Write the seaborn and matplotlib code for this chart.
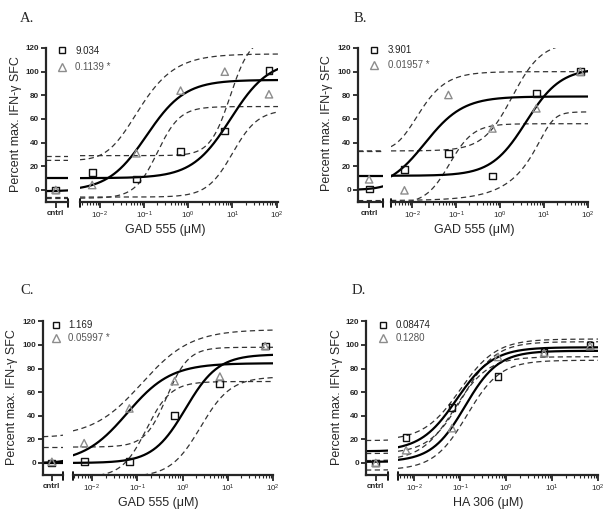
import numpy as np
import matplotlib
matplotlib.use("Agg")
import matplotlib.pyplot as plt
import seaborn as sns
from matplotlib.ticker import LogLocator, NullFormatter, LogFormatterSciNotation, FixedLocator, NullLocator
from matplotlib.lines import Line2D

# ---------------------------------------------------------------- data
conc = [0.0067, 0.067, 0.67, 6.7, 67.0]          # concentration (uM); cntrl handled separately
y_ticks = [0, 20, 40, 60, 80, 100, 120]
cntrl_label = "cntrl"

# Panel A (first value of each series = cntrl well)
A_square = [0.0, 14.6, 9.3, 32.4, 49.9, 100.9]
A_triangle = [0.0, 4.2, 31.0, 84.0, 100.0, 80.9]
A_ec50 = [9.034, 0.1139]
A_legend = ["9.034", "0.1139 *"]
A_fit_bottom = [10.0, -1.0]
A_fit_top = [110.0, 93.0]
A_fit_hill = [1.0, 1.0]
# 95% bands: square upper, square lower, triangle upper, triangle lower
A_band_bottom = [29.0, -6.0, 25.0, -7.0]
A_band_top = [130.0, 68.0, 115.0, 70.5]
A_band_logmid = [0.95, 1.0, -1.73, -0.7]
A_band_hill = [1.9, 1.5, 0.9, 1.7]
A_band_asym = [1.0, 1.0, 3.0, 1.0]

# Panel B
B_square = [0.8, 17.5, 31.0, 11.8, 81.3, 100.3]
B_triangle = [9.0, -0.3, 80.3, 52.0, 69.0, 100.0]
B_ec50 = [3.901, 0.01957]
B_legend = ["3.901", "0.01957 *"]
B_fit_bottom = [12.0, 0.0]
B_fit_top = [103.0, 79.0]
B_fit_hill = [1.1, 1.0]
B_band_bottom = [33.0, -9.0, 33.0, -12.0]
B_band_top = [125.0, 66.0, 100.0, 56.0]
B_band_logmid = [0.28, 1.1, -2.3, -1.15]
B_band_hill = [1.3, 3.0, 1.2, 1.6]
B_band_asym = [1.0, 0.25, 3.0, 1.0]

# Panel C
C_square = [0.0, 1.0, 1.0, 40.3, 67.6, 99.0]
C_triangle = [1.0, 16.8, 46.2, 69.3, 73.2, 99.0]
C_ec50 = [1.169, 0.05997]
C_legend = ["1.169", "0.05997 *"]
C_fit_bottom = [0.0, 0.0]
C_fit_top = [92.0, 84.5]
C_fit_hill = [1.2, 0.9]
C_band_bottom = [13.5, -12.0, 22.0, -12.0]
C_band_top = [98.0, 73.0, 113.0, 69.0]
C_band_logmid = [-0.35, 0.4, -0.9, -0.8]
C_band_hill = [1.8, 1.3, 0.8, 1.6]
C_band_asym = [1.0, 1.0, 1.0, 1.0]

# Panel D
D_square = [0.0, 21.3, 46.7, 73.2, 93.3, 99.3]
D_triangle = [0.0, 10.8, 29.5, 89.8, 93.0, 99.0]
D_ec50 = [0.08474, 0.1280]
D_legend = ["0.08474", "0.1280"]
D_fit_bottom = [10.0, 1.0]
D_fit_top = [98.0, 95.0]
D_fit_hill = [1.1, 1.2]
D_band_bottom = [19.0, 2.0, 8.0, -6.0]
D_band_top = [105.0, 90.0, 102.7, 87.0]
D_band_logmid = [-1.0, -1.12, -0.95, -0.85]
D_band_hill = [1.1, 1.2, 1.2, 1.2]
D_band_asym = [1.0, 1.0, 1.0, 1.0]

# ---------------------------------------------------------------- style
sns.set_style("ticks")
plt.rcParams["font.family"] = ["Liberation Sans", "DejaVu Sans"]
plt.rcParams["mathtext.default"] = "regular"
plt.rcParams["axes.linewidth"] = 1.6

W, H = 612, 518
fig = plt.figure(figsize=(W / 100, H / 100), dpi=100)
fig.patch.set_facecolor("white")

SQ_COLOR = "#111111"
TR_COLOR = "#8c8c8c"
DASH_COLOR = "#333333"
YLIM = (-10, 120)
CNTRL_LOG = (-4.0, -3.1)
CNTRL_X = 10 ** -3.6


def px_axes(x0, x1, y0, y1):
    return fig.add_axes([x0 / W, 1 - y1 / H, (x1 - x0) / W, (y1 - y0) / H])


def logistic(x, bottom, top, logmid, hill, asym=1.0):
    return bottom + (top - bottom) / (1.0 + 10.0 ** (hill * (logmid - np.log10(x)))) ** asym


panels = [
    dict(letter="A.", sq=A_square, tr=A_triangle, ec50=A_ec50, legend=A_legend,
         fit=(A_fit_bottom, A_fit_top, A_fit_hill),
         band=(A_band_bottom, A_band_top, A_band_logmid, A_band_hill, A_band_asym),
         xlabel="GAD 555 (\u03bcM)"),
    dict(letter="B.", sq=B_square, tr=B_triangle, ec50=B_ec50, legend=B_legend,
         fit=(B_fit_bottom, B_fit_top, B_fit_hill),
         band=(B_band_bottom, B_band_top, B_band_logmid, B_band_hill, B_band_asym),
         xlabel="GAD 555 (\u03bcM)"),
    dict(letter="C.", sq=C_square, tr=C_triangle, ec50=C_ec50, legend=C_legend,
         fit=(C_fit_bottom, C_fit_top, C_fit_hill),
         band=(C_band_bottom, C_band_top, C_band_logmid, C_band_hill, C_band_asym),
         xlabel="GAD 555 (\u03bcM)"),
    dict(letter="D.", sq=D_square, tr=D_triangle, ec50=D_ec50, legend=D_legend,
         fit=(D_fit_bottom, D_fit_top, D_fit_hill),
         band=(D_band_bottom, D_band_top, D_band_logmid, D_band_hill, D_band_asym),
         xlabel="HA 306 (\u03bcM)"),
]

layout = [
    dict(cntrl=(46, 68), log=(80, 278), y=(48, 201.8), loglim=(-2.45, 2.03),
         letter=(20, 18), xlab=(165, 230), ylab=(16, 124),
         leg=(61.7, 51.7, 75.0, 0.68)),
    dict(cntrl=(358, 383), log=(391, 588), y=(48, 201.8), loglim=(-2.48, 2.0),
         letter=(354, 18), xlab=(474, 230), ylab=(327, 123),
         leg=(374.3, 51.0, 387.7, 0.5)),
    dict(cntrl=(43, 63), log=(73, 273), y=(321.3, 474.8), loglim=(-2.42, 2.0),
         letter=(20, 291), xlab=(158, 503), ylab=(12, 397),
         leg=(55.5, 326.3, 68.3, 0.3)),
    dict(cntrl=(366, 388), log=(398, 598), y=(321.3, 474.8), loglim=(-2.35, 2.0),
         letter=(352, 291), xlab=(488, 503), ylab=(337, 397),
         leg=(382.7, 326.3, 396.0, 0.3)),
]

for P, g in zip(panels, layout):
    axc = px_axes(g["cntrl"][0], g["cntrl"][1], g["y"][0], g["y"][1])
    axl = px_axes(g["log"][0], g["log"][1], g["y"][0], g["y"][1])
    for ax in (axc, axl):
        ax.set_xscale("log")
        ax.set_ylim(*YLIM)
        ax.patch.set_alpha(0)
        for s in ("top", "right"):
            ax.spines[s].set_visible(False)
    axc.set_xlim(10 ** CNTRL_LOG[0], 10 ** CNTRL_LOG[1])
    axl.set_xlim(10 ** g["loglim"][0], 10 ** g["loglim"][1])
    axl.spines["left"].set_visible(False)

    # curves: confidence bands (dashed) and fits (solid)
    bb, bt, bm, bh, ba = P["band"]
    fb, ft, fh = P["fit"]
    for ax, (lo, hi) in ((axc, CNTRL_LOG), (axl, g["loglim"])):
        xs = np.logspace(lo, hi, 400)
        for i in range(4):
            ys = logistic(xs, bb[i], bt[i], bm[i], bh[i], ba[i])
            sns.lineplot(x=xs, y=ys, ax=ax, color=DASH_COLOR, linewidth=0.9,
                         linestyle=(0, (4.2, 2.8)), estimator=None, errorbar=None,
                         sort=False, zorder=2)
        for i in range(2):
            ys = logistic(xs, fb[i], ft[i], np.log10(P["ec50"][i]), fh[i])
            sns.lineplot(x=xs, y=ys, ax=ax, color="black", linewidth=1.6,
                         estimator=None, errorbar=None, sort=False, zorder=2.5)

    # data points
    for vals, mk, col, sz in ((P["sq"], "s", SQ_COLOR, 24), (P["tr"], "^", TR_COLOR, 28)):
        sns.scatterplot(x=[CNTRL_X], y=[vals[0]], ax=axc, marker=mk, s=sz,
                        facecolors="none", edgecolor=col, linewidth=1.0, zorder=4)
        sns.scatterplot(x=conc, y=vals[1:], ax=axl, marker=mk, s=sz,
                        facecolors="none", edgecolor=col, linewidth=1.0, zorder=4)

    # axes ticks
    axc.yaxis.set_major_locator(FixedLocator(y_ticks))
    axc.tick_params(axis="y", direction="out", length=3.5, width=1.3, labelsize=5.8, pad=1.5)
    axc.xaxis.set_major_locator(FixedLocator([CNTRL_X]))
    axc.xaxis.set_minor_locator(NullLocator())
    axc.set_xticklabels([cntrl_label])
    axc.tick_params(axis="x", direction="out", length=4, width=1.3, labelsize=5.8, pad=2)
    for lab in axc.get_yticklabels() + axc.get_xticklabels():
        lab.set_fontweight("bold")
    axl.tick_params(axis="y", left=False, labelleft=False)
    axl.xaxis.set_major_locator(LogLocator(base=10, numticks=10))
    axl.xaxis.set_major_formatter(LogFormatterSciNotation())
    axl.xaxis.set_minor_locator(LogLocator(base=10, subs=np.arange(2, 10), numticks=40))
    axl.xaxis.set_minor_formatter(NullFormatter())
    axl.tick_params(axis="x", which="major", direction="out", length=4, width=1.3,
                    labelsize=5.8, pad=2)
    axl.tick_params(axis="x", which="minor", direction="out", length=2.5, width=0.8)
    axc.set_xlabel("")
    axc.set_ylabel("")
    axl.set_xlabel("")
    axl.set_ylabel("")

    # axis break caps
    axc.axvline(10 ** CNTRL_LOG[1], ymin=-0.035, ymax=0.02, color="black", lw=1.3, clip_on=False)
    axl.axvline(10 ** g["loglim"][0], ymin=-0.035, ymax=0.02, color="black", lw=1.3, clip_on=False)

    # texts
    fig.text(g["letter"][0] / W, 1 - g["letter"][1] / H, P["letter"], ha="left", va="center",
             fontsize=10.5, family=["Liberation Serif", "DejaVu Serif"])
    fig.text(g["xlab"][0] / W, 1 - g["xlab"][1] / H, P["xlabel"], ha="center", va="center",
             fontsize=9)
    fig.text(g["ylab"][0] / W, 1 - g["ylab"][1] / H, "Percent max. IFN-\u03b3 SFC",
             ha="center", va="center", rotation=90, fontsize=9)

    # legend
    mx, my, tx, lsp = g["leg"]
    fs_pt = 7.0
    fs_px = fs_pt * 100 / 72
    handles = [Line2D([], [], marker="s", ls="none", mfc="none", mec=SQ_COLOR, ms=4.8, mew=1.0),
               Line2D([], [], marker="^", ls="none", mfc="none", mec=TR_COLOR, ms=5.2, mew=1.0)]
    leg = fig.legend(handles, P["legend"], loc="upper left",
                     bbox_to_anchor=((mx - 0.5 * fs_px) / W, 1 - (my - 0.6 * fs_px) / H),
                     frameon=False, fontsize=fs_pt, handlelength=1.0,
                     handletextpad=(tx - mx - 0.5 * fs_px) / fs_px,
                     labelspacing=lsp, borderpad=0, borderaxespad=0)
    leg.get_texts()[0].set_color("#222222")
    leg.get_texts()[1].set_color("#555555")

fig.savefig("out.png", dpi=100, facecolor="white")
